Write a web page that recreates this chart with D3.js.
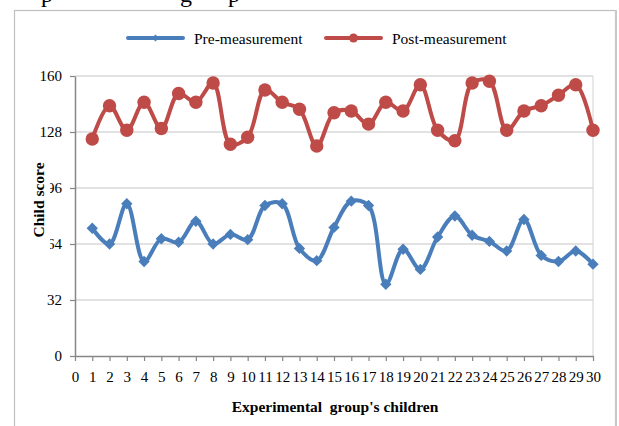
<!DOCTYPE html>
<html>
<head>
<meta charset="utf-8">
<script src="https://cdn.jsdelivr.net/npm/d3@7"></script>
<style>
  html, body { margin: 0; padding: 0; background: #fff; }
  svg { display: block; }
  text { font-family: "Liberation Serif", "Times New Roman", serif; }
</style>
</head>
<body>
<svg id="chart" width="619" height="426"></svg>
<script>
// Children of the experimental group (x positions)
const children = d3.range(1, 31);

// Scores before the programme
const preMeasurement = [73, 64, 87, 54, 67, 65, 77, 64, 69.5, 66.5,
                        86, 87, 61.5, 54.5, 73.5, 88.5, 86, 41, 61, 49.5,
                        68, 80, 69, 65.5, 60, 78, 57.5, 54, 60, 52.5];

// Scores after the programme
const postMeasurement = [124, 143, 129, 145, 130, 150, 145, 156, 121, 125,
                         152, 145, 141, 120, 139, 140, 132.5, 145, 140, 155,
                         129, 123, 156, 157, 129, 140, 143, 149, 155, 129];

const yTicks = [0, 32, 64, 96, 128, 160];
const xTicks = d3.range(0, 31);

const seriesNames = ["Pre-measurement", "Post-measurement"];
const seriesColors = ["#4a7ebb", "#be4b48"];

const svg = d3.select("#chart");

// Outer chart frame
svg.append("rect")
  .attr("x", 14.5).attr("y", 10.5)
  .attr("width", 601).attr("height", 430)
  .attr("fill", "#fff")
  .attr("stroke", "#bfbfbf").attr("stroke-width", 1.2);
svg.append("line")
  .attr("x1", 616).attr("x2", 616).attr("y1", 10).attr("y2", 426)
  .attr("stroke", "#c8c8c8").attr("stroke-width", 2);

// Heading line above the frame (only its descenders fall inside the view)
const heading = svg.append("g").attr("font-size", 24).attr("fill", "#000");
[["p", 41], ["g", 180], ["p", 228]].forEach(([ch, x]) => {
  heading.append("text").attr("x", x).attr("y", 2).text(ch);
});

const x = d3.scaleLinear().domain([0, 30]).range([75, 593]);
const y = d3.scaleLinear().domain([0, 160]).range([356, 76]);

// Horizontal gridlines
svg.append("g")
  .selectAll("line")
  .data(yTicks.filter(d => d > 0))
  .join("line")
  .attr("x1", x(0)).attr("x2", x(30))
  .attr("y1", d => y(d)).attr("y2", d => y(d))
  .attr("stroke", "#d9d9d9").attr("stroke-width", 1.5);

// Right edge of the plot area
svg.append("line")
  .attr("x1", x(30)).attr("x2", x(30))
  .attr("y1", y(160)).attr("y2", y(0))
  .attr("stroke", "#d9d9d9").attr("stroke-width", 1.2);

// Y axis
const yAxis = svg.append("g")
  .attr("transform", `translate(${x(0)},0)`)
  .call(d3.axisLeft(y).tickValues(yTicks).tickSize(5).tickPadding(8).tickSizeOuter(0));
yAxis.select(".domain").attr("stroke", "#868686").attr("stroke-width", 1.5);
yAxis.selectAll(".tick line").attr("stroke", "#868686").attr("stroke-width", 1.2);
yAxis.selectAll(".tick text")
  .attr("font-family", "Liberation Serif, serif")
  .attr("font-size", 15).attr("fill", "#000");

// X axis
const xAxis = svg.append("g")
  .attr("transform", `translate(0,${y(0)})`)
  .call(d3.axisBottom(x).tickValues(xTicks).tickFormat(d3.format("d"))
    .tickSize(5).tickPadding(10).tickSizeOuter(0));
xAxis.select(".domain").attr("stroke", "#868686").attr("stroke-width", 1.5);
xAxis.selectAll(".tick line").attr("stroke", "#868686").attr("stroke-width", 1.2);
xAxis.selectAll(".tick text")
  .attr("font-family", "Liberation Serif, serif")
  .attr("font-size", 15).attr("fill", "#000");

// Axis titles (the y title sits on its own white box)
svg.append("rect")
  .attr("x", 28).attr("y", 152).attr("width", 22).attr("height", 99)
  .attr("fill", "#fff");
svg.append("text")
  .attr("transform", "translate(43.5,200) rotate(-90)")
  .attr("text-anchor", "middle")
  .attr("font-size", 15.5).attr("font-weight", "bold")
  .text("Child score");
svg.append("text")
  .attr("x", 335).attr("y", 412)
  .attr("text-anchor", "middle")
  .attr("font-size", 15.5).attr("font-weight", "bold")
  .attr("xml:space", "preserve")
  .style("white-space", "pre")
  .text("Experimental  group's children");

// Series lines (smoothed)
const line = d3.line()
  .x((d, i) => x(children[i]))
  .y(d => y(d))
  .curve(d3.curveCatmullRom.alpha(0.5));

const diamond = d3.symbol().type(d3.symbolDiamond2);

function drawSeries(values, color, kind) {
  svg.append("path")
    .datum(values)
    .attr("fill", "none")
    .attr("stroke", color)
    .attr("stroke-width", 4)
    .attr("stroke-linejoin", "round")
    .attr("d", line);
  const g = svg.append("g");
  if (kind === "diamond") {
    g.selectAll("path")
      .data(values)
      .join("path")
      .attr("transform", (d, i) => `translate(${x(children[i])},${y(d)})`)
      .attr("d", diamond.size(82)())
      .attr("fill", color);
  } else {
    g.selectAll("circle")
      .data(values)
      .join("circle")
      .attr("cx", (d, i) => x(children[i]))
      .attr("cy", d => y(d))
      .attr("r", 6.7)
      .attr("fill", color);
  }
}

drawSeries(preMeasurement, seriesColors[0], "diamond");
drawSeries(postMeasurement, seriesColors[1], "circle");

// Legend
const legendItems = [
  { name: seriesNames[0], color: seriesColors[0], kind: "diamond", x: 128 },
  { name: seriesNames[1], color: seriesColors[1], kind: "circle", x: 326 }
];
const legend = svg.append("g");
legendItems.forEach(item => {
  const g = legend.append("g").attr("transform", `translate(${item.x},38)`);
  g.append("line")
    .attr("x1", 0).attr("x2", 55).attr("y1", 0).attr("y2", 0)
    .attr("stroke", item.color).attr("stroke-width", 4)
    .attr("stroke-linecap", "round");
  if (item.kind === "diamond") {
    g.append("path")
      .attr("transform", "translate(27.5,0)")
      .attr("d", diamond.size(30)())
      .attr("fill", item.color);
  } else {
    g.append("circle").attr("cx", 27.5).attr("cy", 0).attr("r", 4.5)
      .attr("fill", item.color);
  }
  g.append("text")
    .attr("x", 66).attr("y", 5.5)
    .attr("font-size", 15.5)
    .text(item.name);
});
</script>
</body>
</html>
